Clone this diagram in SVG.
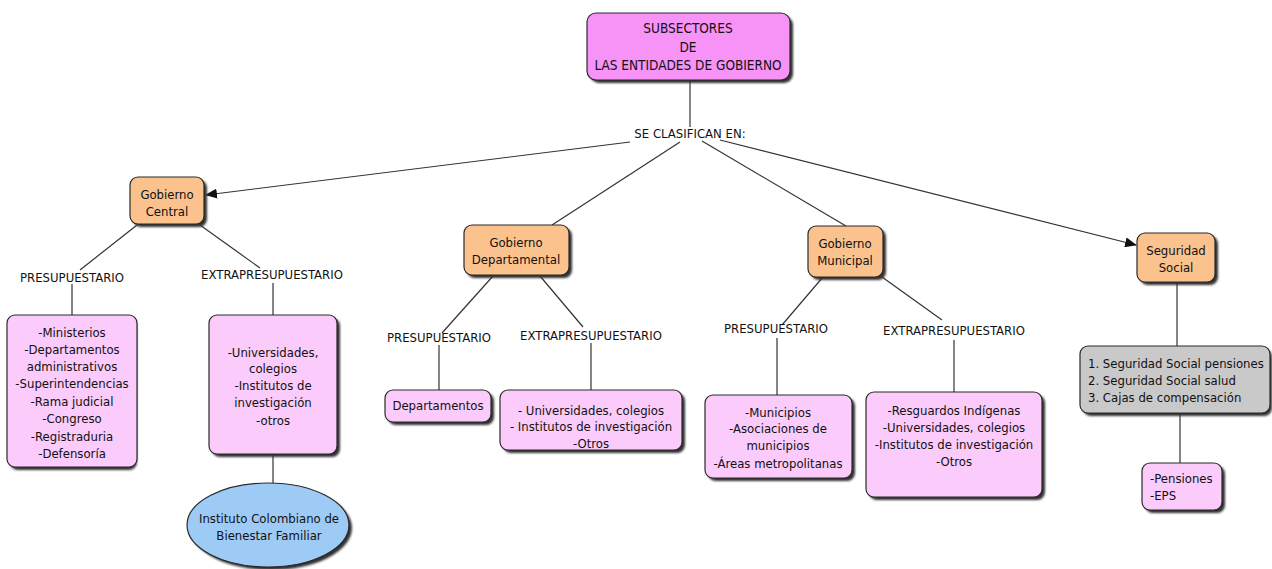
<svg xmlns="http://www.w3.org/2000/svg" width="1272" height="569" viewBox="0 0 1272 569">
  <defs>
    <style>
      text { font-family: "DejaVu Sans Condensed", "DejaVu Sans", sans-serif; font-stretch: condensed; font-size: 13px; fill: #111; }
      .c { text-anchor: middle; }
      .l { text-anchor: start; }
      .box { stroke: #2a2a2a; stroke-width: 1.2; }
      .shadow { fill: #333; filter: url(#soft); }
      .root { fill: #f792f7; }
      .gov { fill: #fbc28d; }
      .leaf { fill: #fbcbfb; }
      .grey { fill: #c9c9c9; }
      .oval { fill: #9dcbf6; }
      .edge { stroke: #333; stroke-width: 1.2; fill: none; }
      .top { font-size: 13.5px; }
    </style>
    <filter id="soft" x="-10%" y="-10%" width="130%" height="130%">
      <feGaussianBlur stdDeviation="0.8"/>
    </filter>
    <marker id="arrow" viewBox="0 0 12 10" refX="11" refY="5" markerWidth="12" markerHeight="10" markerUnits="userSpaceOnUse" orient="auto">
      <path d="M0,0 L12,5 L0,10 z" fill="#111"/>
    </marker>
  </defs>

  <rect width="1272" height="569" fill="#ffffff"/>

  <!-- connectors -->
  <g id="connectors">
    <line class="edge" x1="690" y1="80" x2="690" y2="127"/>
    <line class="edge" x1="630" y1="142" x2="206" y2="195" marker-end="url(#arrow)"/>
    <line class="edge" x1="680" y1="142" x2="552" y2="225"/>
    <line class="edge" x1="702" y1="141" x2="846" y2="226"/>
    <line class="edge" x1="720" y1="140" x2="1136" y2="245" marker-end="url(#arrow)"/>

    <!-- Gobierno Central -->
    <line class="edge" x1="137" y1="225" x2="80" y2="270"/>
    <line class="edge" x1="200" y1="225" x2="260" y2="268"/>
    <line class="edge" x1="72" y1="284" x2="72" y2="315"/>
    <line class="edge" x1="273" y1="283" x2="273" y2="315"/>
    <line class="edge" x1="273" y1="454" x2="273" y2="483"/>

    <!-- Gobierno Departamental -->
    <line class="edge" x1="493" y1="276" x2="442" y2="333"/>
    <line class="edge" x1="540" y1="276" x2="583" y2="327"/>
    <line class="edge" x1="439" y1="345" x2="439" y2="390"/>
    <line class="edge" x1="591" y1="343" x2="591" y2="390"/>

    <!-- Gobierno Municipal -->
    <line class="edge" x1="823" y1="277" x2="782" y2="325"/>
    <line class="edge" x1="882" y1="277" x2="942" y2="320"/>
    <line class="edge" x1="777" y1="338" x2="777" y2="395"/>
    <line class="edge" x1="954" y1="340" x2="954" y2="392"/>

    <!-- Seguridad Social -->
    <line class="edge" x1="1177" y1="282" x2="1177" y2="346"/>
    <line class="edge" x1="1180" y1="413" x2="1180" y2="463"/>
  </g>

  <!-- connector labels -->
  <g id="labels">
    <text class="c" x="690" y="138">SE CLASIFICAN EN:</text>
    <text class="c" x="72" y="282">PRESUPUESTARIO</text>
    <text class="c" x="272" y="279">EXTRAPRESUPUESTARIO</text>
    <text class="c" x="439" y="342">PRESUPUESTARIO</text>
    <text class="c" x="591" y="340">EXTRAPRESUPUESTARIO</text>
    <text class="c" x="776" y="333">PRESUPUESTARIO</text>
    <text class="c" x="954" y="335">EXTRAPRESUPUESTARIO</text>
  </g>

  <!-- root -->
  <g id="subsectores">
    <rect class="shadow" x="590" y="16" width="203" height="67" rx="9"/>
    <rect class="box root" x="587" y="13" width="203" height="67" rx="9"/>
    <text class="c top" x="688" y="33">SUBSECTORES</text>
    <text class="c top" x="688" y="52">DE</text>
    <text class="c top" x="688" y="70">LAS ENTIDADES DE GOBIERNO</text>
  </g>

  <g id="gobierno-central">
    <rect class="shadow" x="133" y="180" width="74" height="47" rx="8"/>
    <rect class="box gov" x="130" y="177" width="74" height="47" rx="8"/>
    <text class="c" x="167" y="199">Gobierno</text>
    <text class="c" x="167" y="216">Central</text>
  </g>

  <g id="gobierno-departamental">
    <rect class="shadow" x="467" y="228" width="105" height="50" rx="8"/>
    <rect class="box gov" x="464" y="225" width="105" height="50" rx="8"/>
    <text class="c" x="516" y="247">Gobierno</text>
    <text class="c" x="516" y="264">Departamental</text>
  </g>

  <g id="gobierno-municipal">
    <rect class="shadow" x="811" y="229" width="75" height="51" rx="8"/>
    <rect class="box gov" x="808" y="226" width="75" height="51" rx="8"/>
    <text class="c" x="845" y="248">Gobierno</text>
    <text class="c" x="845" y="265">Municipal</text>
  </g>

  <g id="seguridad-social">
    <rect class="shadow" x="1140" y="236" width="78" height="49" rx="8"/>
    <rect class="box gov" x="1137" y="233" width="78" height="49" rx="8"/>
    <text class="c" x="1176" y="255">Seguridad</text>
    <text class="c" x="1176" y="272">Social</text>
  </g>

  <g id="central-presupuestario">
    <rect class="shadow" x="10" y="318" width="127" height="152" rx="8"/>
    <rect class="box leaf" x="7" y="315" width="130" height="152" rx="8"/>
    <text class="c" x="72" y="337">-Ministerios</text>
    <text class="c" x="72" y="354">-Departamentos</text>
    <text class="c" x="72" y="371">administrativos</text>
    <text class="c" x="72" y="388">-Superintendencias</text>
    <text class="c" x="72" y="406">-Rama judicial</text>
    <text class="c" x="72" y="423">-Congreso</text>
    <text class="c" x="72" y="441">-Registraduria</text>
    <text class="c" x="72" y="458">-Defensoría</text>
  </g>

  <g id="central-extrapresupuestario">
    <rect class="shadow" x="212" y="318" width="128" height="139" rx="8"/>
    <rect class="box leaf" x="209" y="315" width="128" height="139" rx="8"/>
    <text class="c" x="273" y="357">-Universidades,</text>
    <text class="c" x="273" y="373">colegios</text>
    <text class="c" x="273" y="390">-Institutos de</text>
    <text class="c" x="273" y="407">investigación</text>
    <text class="c" x="273" y="425">-otros</text>
  </g>

  <g id="icbf">
    <ellipse class="shadow" cx="271" cy="528" rx="81" ry="42"/>
    <ellipse class="box oval" cx="268" cy="525" rx="81" ry="42"/>
    <text class="c" x="269" y="523">Instituto Colombiano de</text>
    <text class="c" x="269" y="540">Bienestar Familiar</text>
  </g>

  <g id="departamental-presupuestario">
    <rect class="shadow" x="388" y="393" width="106" height="32" rx="8"/>
    <rect class="box leaf" x="385" y="390" width="106" height="32" rx="8"/>
    <text class="c" x="438" y="410">Departamentos</text>
  </g>

  <g id="departamental-extrapresupuestario">
    <rect class="shadow" x="503" y="393" width="182" height="60" rx="8"/>
    <rect class="box leaf" x="500" y="390" width="182" height="60" rx="8"/>
    <text class="c" x="591" y="415">- Universidades, colegios</text>
    <text class="c" x="591" y="431">- Institutos de investigación</text>
    <text class="c" x="591" y="448">-Otros</text>
  </g>

  <g id="municipal-presupuestario">
    <rect class="shadow" x="708" y="398" width="147" height="83" rx="8"/>
    <rect class="box leaf" x="705" y="395" width="147" height="83" rx="8"/>
    <text class="c" x="778" y="417">-Municipios</text>
    <text class="c" x="778" y="433">-Asociaciones de</text>
    <text class="c" x="778" y="450">municipios</text>
    <text class="c" x="778" y="468">-Áreas metropolitanas</text>
  </g>

  <g id="municipal-extrapresupuestario">
    <rect class="shadow" x="869" y="395" width="176" height="105" rx="8"/>
    <rect class="box leaf" x="866" y="392" width="176" height="105" rx="8"/>
    <text class="c" x="954" y="415">-Resguardos Indígenas</text>
    <text class="c" x="954" y="432">-Universidades, colegios</text>
    <text class="c" x="954" y="449">-Institutos de investigación</text>
    <text class="c" x="954" y="466">-Otros</text>
  </g>

  <g id="seguridad-tipos">
    <rect class="shadow" x="1083" y="349" width="189" height="67" rx="8"/>
    <rect class="box grey" x="1080" y="346" width="190" height="67" rx="8"/>
    <text class="l" x="1088" y="368">1. Seguridad Social pensiones</text>
    <text class="l" x="1088" y="385">2. Seguridad Social salud</text>
    <text class="l" x="1088" y="402">3. Cajas de compensación</text>
  </g>

  <g id="seguridad-entidades">
    <rect class="shadow" x="1145" y="466" width="80" height="47" rx="8"/>
    <rect class="box leaf" x="1142" y="463" width="80" height="47" rx="8"/>
    <text class="l" x="1150" y="483">-Pensiones</text>
    <text class="l" x="1150" y="500">-EPS</text>
  </g>
</svg>
